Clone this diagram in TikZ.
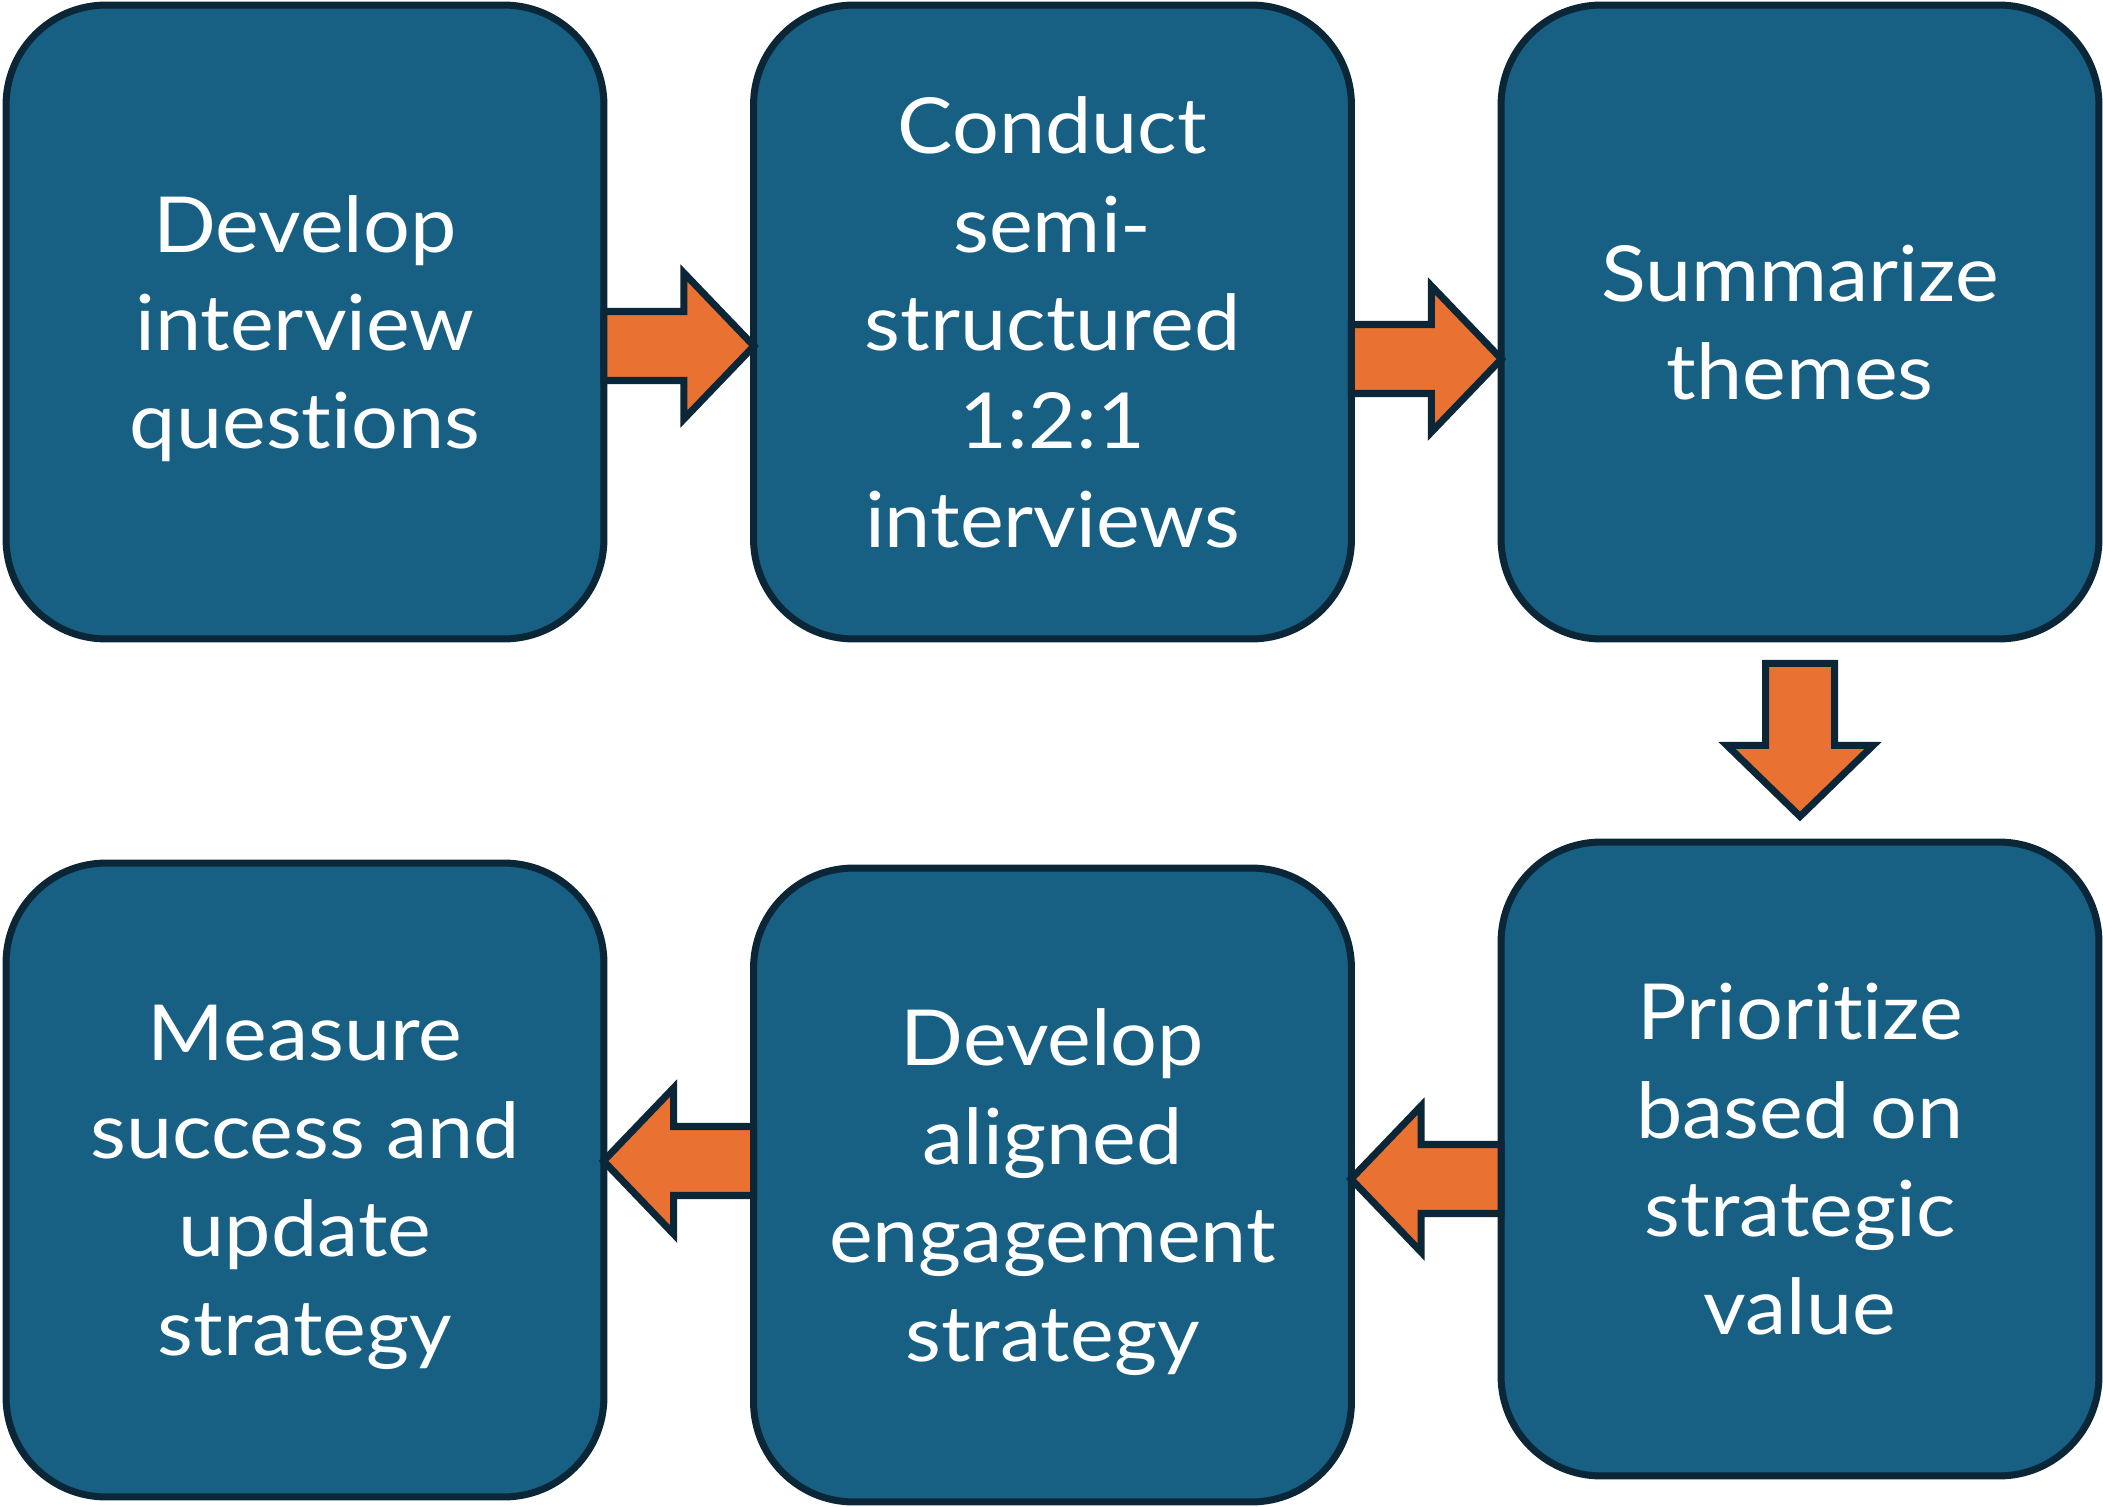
\documentclass[tikz,border=0pt]{standalone}
\usepackage{fontspec}
\setmainfont{Lato}[Ligatures=NoCommon, FakeStretch=1.07]
\usepackage{xcolor}
\usepackage{tikz}

\definecolor{stageblue}{HTML}{176083}
\definecolor{stageline}{HTML}{0A2637}
\definecolor{arroworange}{HTML}{E97132}

\begin{document}
\begin{tikzpicture}[x=0.02cm, y=-0.02cm, line width=4pt,
    stage/.style={draw=stageline, fill=stageblue, rounded corners=2cm,
        minimum width=11.96cm, minimum height=12.68cm, inner sep=0pt, outer sep=0pt,
        align=center, text=white, text depth=0pt, font=\fontsize{44}{56}\selectfont},
    blockarrow/.style={draw=stageline, fill=arroworange, line join=miter}]
    \useasboundingbox (0,0) rectangle (2103,1507);

    \node[stage] (dev) at (305,322) {Develop\\interview\\questions};
    \node[stage] (conduct) at (1052.5,322) {Conduct\\semi-\\structured\\1:2:1\\interviews};
    \node[stage] (summ) at (1800,322) {Summarize\\themes};
    \node[stage] (prio) at (1800,1159) {Prioritize\\based on\\strategic\\value};
    \node[stage] (align) at (1052.5,1185) {Develop\\aligned\\engagement\\strategy};
    \node[stage] (meas) at (305,1180) {Measure\\success and\\update\\strategy};

    \draw[blockarrow] (dev.east) ++(0,-10.5) -- ++(80,0) -- ++(0,-38.5) -- ++(70,73)
        -- ++(-70,73) -- ++(0,-38.5) -- ++(-80,0) -- cycle;
    \draw[blockarrow] (conduct.east) ++(0,2.5) -- ++(80,0) -- ++(0,-38.5) -- ++(70,73)
        -- ++(-70,73) -- ++(0,-38.5) -- ++(-80,0) -- cycle;
    \draw[blockarrow] (summ.south) ++(-34.5,24.5) -- ++(0,82) -- ++(-38.5,0) -- ++(73,71)
        -- ++(73,-71) -- ++(-38.5,0) -- ++(0,-82) -- cycle;
    \draw[blockarrow] (prio.west) ++(0,-14.5) -- ++(-80,0) -- ++(0,-38.5) -- ++(-70,73)
        -- ++(70,73) -- ++(0,-38.5) -- ++(80,0) -- cycle;
    \draw[blockarrow] (align.west) ++(0,-58.5) -- ++(-80,0) -- ++(0,-38.5) -- ++(-70,73)
        -- ++(70,73) -- ++(0,-38.5) -- ++(80,0) -- cycle;
\end{tikzpicture}
\end{document}
